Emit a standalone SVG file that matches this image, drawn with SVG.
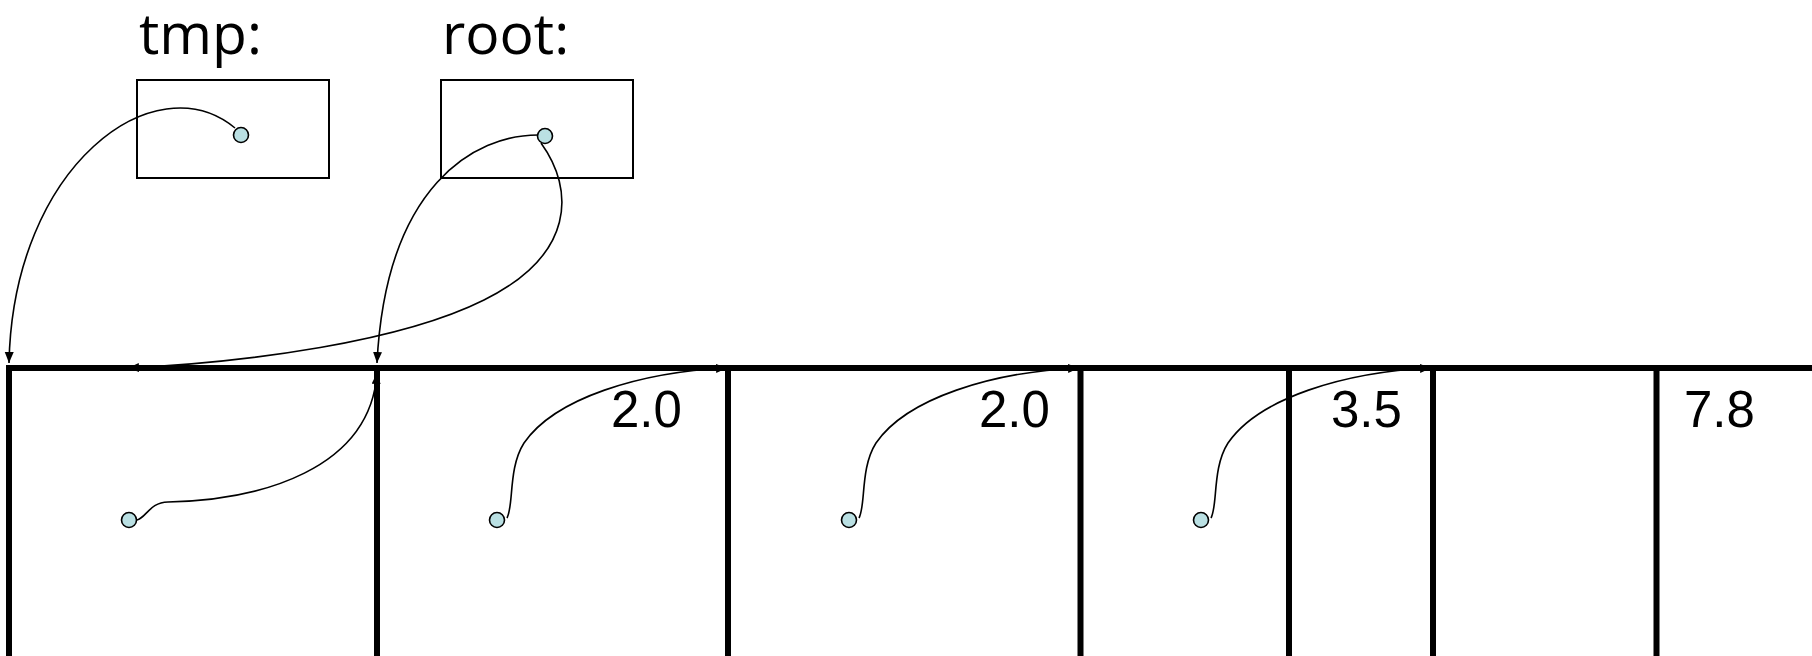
<svg xmlns="http://www.w3.org/2000/svg" width="1812" height="656" viewBox="0 0 1812 656">
<style>
.lbl{font-family:"Open Sans","Noto Sans",sans-serif;font-size:57px;fill:#000}
.val{font-family:"Liberation Sans",Arial,sans-serif;font-size:51px;fill:#000}
.box{fill:none;stroke:#000;stroke-width:2}
.grid{stroke:#000;stroke-width:6;fill:none}
.dot{fill:#BAE0E3;stroke:#000;stroke-width:1.6}
.con{fill:none;stroke:#000;stroke-width:1.6}
</style>
<defs>
<marker id="ah" markerUnits="userSpaceOnUse" markerWidth="12" markerHeight="10" refX="11" refY="4.5" orient="auto">
<path d="M0,0 L11,4.5 L0,9 z" fill="#000"/>
</marker>
</defs>
<g id="grid">
<line class="grid" x1="6" y1="368" x2="1812" y2="368"/>
<line class="grid" x1="9" y1="365" x2="9" y2="656"/>
<line class="grid" x1="377" y1="365" x2="377" y2="656"/>
<line class="grid" x1="728" y1="365" x2="728" y2="656"/>
<line class="grid" x1="1080.5" y1="365" x2="1080.5" y2="656"/>
<line class="grid" x1="1289" y1="365" x2="1289" y2="656"/>
<line class="grid" x1="1433" y1="365" x2="1433" y2="656"/>
<line class="grid" x1="1656.5" y1="365" x2="1656.5" y2="656"/>
</g>
<g id="tmp">
<text class="lbl" x="139" y="54">tmp:</text>
<rect class="box" x="137" y="80" width="192" height="98"/>
</g>
<g id="root">
<text class="lbl" x="442" y="54">root:</text>
<rect class="box" x="441" y="80" width="192" height="98"/>
</g>
<g id="values">
<text class="val" x="611" y="427">2.0</text>
<text class="val" x="979" y="427">2.0</text>
<text class="val" x="1331" y="427">3.5</text>
<text class="val" x="1684" y="427">7.8</text>
</g>
<g id="connectors">
<path class="con" marker-end="url(#ah)" d="M235 128 C155 62, 13 165, 9 363"/>
<path class="con" marker-end="url(#ah)" d="M538 135 C475 135, 386 185, 377 363"/>
<path class="con" marker-end="url(#ah)" d="M541 143 C575 190, 575 255, 484 300 C400 342, 250 362, 128 368"/>
<path class="con" marker-end="url(#ah)" d="M137 520 C146 518, 150 502, 168 502 C260 500, 370 470, 377 373"/>
<path class="con" marker-end="url(#ah)" d="M507 518 C514 505, 508 468, 524 443 C555 398, 640 372, 727 368"/>
<path class="con" marker-end="url(#ah)" d="M859 518 C866 505, 860 468, 876 443 C907 398, 992 372, 1079 368"/>
<path class="con" marker-end="url(#ah)" d="M1211 518 C1218 505, 1212 468, 1228 443 C1259 398, 1344 372, 1431 368"/>
</g>
<g id="dots">
<circle class="dot" cx="241" cy="135" r="7.5"/>
<circle class="dot" cx="545" cy="136" r="7.5"/>
<circle class="dot" cx="129" cy="520" r="7.5"/>
<circle class="dot" cx="497" cy="520" r="7.5"/>
<circle class="dot" cx="849" cy="520" r="7.5"/>
<circle class="dot" cx="1201" cy="520" r="7.5"/>
</g>
</svg>
